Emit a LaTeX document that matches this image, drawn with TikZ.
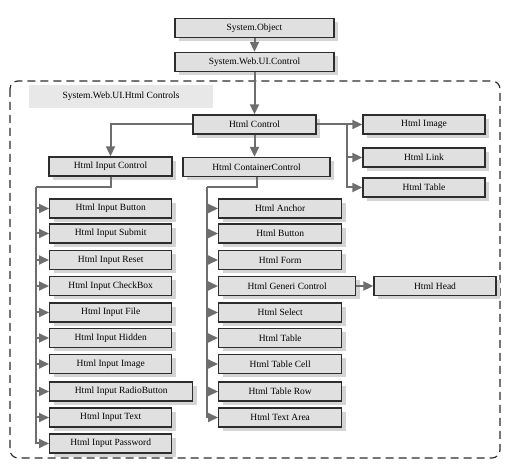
\documentclass[tikz,border=0pt]{standalone}
\usepackage{fontspec}
\setmainfont{Liberation Serif}
\usetikzlibrary{arrows.meta, shadows}
\definecolor{htmlLine}{RGB}{45, 45, 45}
\definecolor{htmlFill}{RGB}{224, 224, 224}
\definecolor{htmlShade}{RGB}{212, 212, 212}
\definecolor{htmlArrow}{RGB}{110, 110, 110}
\definecolor{htmlBand}{RGB}{232, 232, 232}
\begin{document}
\begin{tikzpicture}[x=1pt, y=-1pt,
        box/.style={rectangle, draw=htmlLine, fill=htmlFill, line width=1.4pt, minimum width=122pt, minimum height=19pt, inner sep=1pt, font=\fontsize{9.5}{11}\selectfont, drop shadow={shadow xshift=4pt, shadow yshift=-4pt, fill=htmlShade, opacity=1}},
        leaf/.style={box, anchor=west},
        arr/.style={-{Triangle[length=10pt, width=9pt]}, line width=2pt, htmlArrow},
        link/.style={line width=2pt, htmlArrow}
      ]
        \useasboundingbox (0,0) rectangle (515,470);
        % outer frame and its caption
        \draw[htmlLine, line width=1.2pt, dash pattern=on 8pt off 5pt, rounded corners=8pt] (10,81) rectangle (500,458);
        \node[fill=htmlBand, minimum width=184pt, minimum height=23pt, font=\fontsize{9.5}{11}\selectfont] (cap) at (121,96.5) {System.Web.UI.Html Controls};
        % top of the tree
        \node[box, minimum width=159pt] (obj) at (254.5,28) {System.Object};
        \node[box, minimum width=159pt] (ctl) at (254.5,62) {System.Web.UI.Control};
        \node[box, minimum width=123pt] (hctl) at (254.5,124.5) {Html Control};
        \node[box] (img) at (424,124.5) {Html Image};
        \node[box] (lnk) at (424,157.5) {Html Link};
        \node[box] (tbl) at (424,187.5) {Html Table};
        \node[box, minimum width=123pt] (inctl) at (110.5,166.5) {Html Input Control};
        \node[box, minimum width=147pt] (cont) at (256.5,167) {Html ContainerControl};
        % input controls
        \node[leaf] (ibtn) at (49,208.5) {Html Input Button};
        \node[leaf] (isub) at (49,233.5) {Html Input Submit};
        \node[leaf] (ires) at (49,260) {Html Input Reset};
        \node[leaf] (ichk) at (49,286) {Html Input CheckBox};
        \node[leaf] (ifile) at (49,312.5) {Html Input File};
        \node[leaf] (ihid) at (49,338) {Html Input Hidden};
        \node[leaf] (iimg) at (49,364) {Html Input Image};
        \node[leaf, minimum width=143pt] (irad) at (49,391.5) {Html Input RadioButton};
        \node[leaf] (itxt) at (49,417.5) {Html Input Text};
        \node[leaf] (ipwd) at (49,443.5) {Html Input Password};
        % container controls
        \node[leaf, minimum width=123pt] (canc) at (218,208.5) {Html Anchor};
        \node[leaf, minimum width=123pt] (cbtn) at (218,233.5) {Html Button};
        \node[leaf, minimum width=123pt] (cform) at (218,260) {Html Form};
        \node[leaf, minimum width=137pt] (cgen) at (218,286) {Html Generi Control};
        \node[leaf, minimum width=123pt] (csel) at (218,312.5) {Html Select};
        \node[leaf, minimum width=123pt] (ctbl) at (218,338) {Html Table};
        \node[leaf, minimum width=123pt] (ccell) at (218,364) {Html Table Cell};
        \node[leaf, minimum width=123pt] (crow) at (218,391.5) {Html Table Row};
        \node[leaf, minimum width=123pt] (carea) at (218,417.5) {Html Text Area};
        \node[box] (head) at (435,286) {Html Head};
        % connectors
        \coordinate (rtrunk) at (347,124.5);
        \coordinate (ltrunk) at (36,187);
        \coordinate (ctrunk) at (207,187);
        \draw[arr] (obj) -- (ctl);
        \draw[arr] (ctl) -- (hctl);
        \draw[arr] (hctl.west) -| (inctl.north);
        \draw[arr] (hctl.south) -- (hctl.south |- cont.north);
        \draw[arr] (hctl.east) -- (img.west);
        \draw[arr] (rtrunk) |- (lnk.west);
        \draw[arr] (rtrunk) |- (tbl.west);
        \draw[link] (inctl.south) |- (ltrunk);
        \draw[arr] (ltrunk) |- (ibtn.west);
        \draw[arr] (ltrunk) |- (isub.west);
        \draw[arr] (ltrunk) |- (ires.west);
        \draw[arr] (ltrunk) |- (ichk.west);
        \draw[arr] (ltrunk) |- (ifile.west);
        \draw[arr] (ltrunk) |- (ihid.west);
        \draw[arr] (ltrunk) |- (iimg.west);
        \draw[arr] (ltrunk) |- (irad.west);
        \draw[arr] (ltrunk) |- (itxt.west);
        \draw[arr] (ltrunk) |- (ipwd.west);
        \draw[link] (cont.south) |- (ctrunk);
        \draw[arr] (ctrunk) |- (canc.west);
        \draw[arr] (ctrunk) |- (cbtn.west);
        \draw[arr] (ctrunk) |- (cform.west);
        \draw[arr] (ctrunk) |- (cgen.west);
        \draw[arr] (ctrunk) |- (csel.west);
        \draw[arr] (ctrunk) |- (ctbl.west);
        \draw[arr] (ctrunk) |- (ccell.west);
        \draw[arr] (ctrunk) |- (crow.west);
        \draw[arr] (ctrunk) |- (carea.west);
        \draw[arr] (cgen.east) -- (head.west);
      \end{tikzpicture}
\end{document}
